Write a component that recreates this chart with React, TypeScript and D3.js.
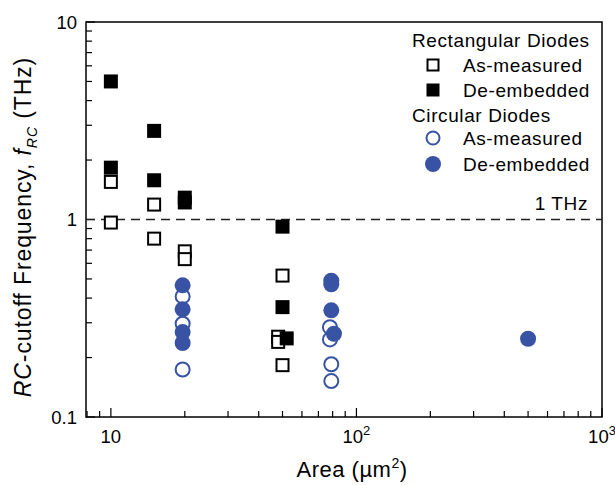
import React, { useEffect, useRef } from 'react'
import * as d3 from 'd3'

// rectangular diodes
const rectMeasuredArea = [10, 10, 15, 15, 20, 20, 50, 48, 48, 50]
const rectMeasuredFreq = [1.55, 0.965, 1.19, 0.8, 0.69, 0.63, 0.52, 0.255, 0.24, 0.183]
const rectDeembArea = [10, 10, 15, 15, 20, 20, 50, 50, 52]
const rectDeembFreq = [5.0, 1.83, 2.81, 1.58, 1.29, 1.22, 0.92, 0.36, 0.25]

// circular diodes
const circMeasuredArea = [19.6, 19.6, 19.6, 78, 78, 79, 79]
const circMeasuredFreq = [0.408, 0.297, 0.174, 0.285, 0.247, 0.185, 0.152]
const circDeembArea = [19.6, 19.6, 19.6, 19.6, 79, 79, 79, 81, 500]
const circDeembFreq = [0.464, 0.351, 0.269, 0.237, 0.49, 0.47, 0.347, 0.264, 0.249]

const xTicks = [10, 100, 1000]
const yTicks = [10, 1, 0.1]

const BLUE = '#3953a4'
const FONT = 'Arial, "Liberation Sans", Helvetica, sans-serif'

function App() {
    const svgRef = useRef<SVGSVGElement>(null)

    useEffect(() => {
        const width = 615
        const height = 485
        const left = 86, right = 602, top = 22, bottom = 417

        const svg = d3.select(svgRef.current)
        svg.selectAll('*').remove()
        svg.attr('width', width).attr('height', height)

        const x = d3.scaleLog().domain([7.92, 1000]).range([left, right])
        const y = d3.scaleLog().domain([0.1, 10]).range([bottom, top])

        // frame
        svg.append('rect')
            .attr('x', left).attr('y', top)
            .attr('width', right - left).attr('height', bottom - top)
            .attr('fill', 'none').attr('stroke', '#000').attr('stroke-width', 1.5)

        // x ticks (inward)
        const xMinor = [8, 9, ...d3.range(2, 10).map(d => d * 10), ...d3.range(2, 10).map(d => d * 100)]
        xMinor.forEach(v => {
            svg.append('line')
                .attr('x1', x(v)).attr('x2', x(v))
                .attr('y1', bottom).attr('y2', bottom - 6)
                .attr('stroke', '#000').attr('stroke-width', 1.2)
        })
        xTicks.forEach(v => {
            svg.append('line')
                .attr('x1', x(v)).attr('x2', x(v))
                .attr('y1', bottom).attr('y2', bottom - 9)
                .attr('stroke', '#000').attr('stroke-width', 1.2)
        })
        const xLab = svg.append('g').attr('font-family', FONT).attr('font-size', 18.5)
        xTicks.forEach(v => {
            const t = xLab.append('text')
                .attr('x', x(v)).attr('y', 443)
                .attr('text-anchor', 'middle')
            const e = Math.round(Math.log10(v))
            if (e === 1) {
                t.text('10')
            } else {
                t.append('tspan').text('10')
                t.append('tspan').attr('dy', -8).attr('font-size', 13).text(String(e))
            }
        })

        // y ticks
        const yMinor: number[] = []
        ;[0.1, 1].forEach(dec => d3.range(2, 10).forEach(m => yMinor.push(m * dec)))
        yMinor.forEach(v => {
            svg.append('line')
                .attr('x1', left).attr('x2', left + 6)
                .attr('y1', y(v)).attr('y2', y(v))
                .attr('stroke', '#000').attr('stroke-width', 1.2)
        })
        yTicks.forEach(v => {
            svg.append('line')
                .attr('x1', left).attr('x2', left + 9)
                .attr('y1', y(v)).attr('y2', y(v))
                .attr('stroke', '#000').attr('stroke-width', 1.2)
            svg.append('text')
                .attr('x', 77).attr('y', y(v) + 6.5)
                .attr('text-anchor', 'end')
                .attr('font-family', FONT).attr('font-size', 18.5)
                .text(String(v))
        })

        // 1 THz dashed line
        svg.append('line')
            .attr('x1', left).attr('x2', right)
            .attr('y1', y(1)).attr('y2', y(1))
            .attr('stroke', '#222').attr('stroke-width', 1.6)
            .attr('stroke-dasharray', '9,6')
        svg.append('text')
            .attr('x', 588).attr('y', 210)
            .attr('text-anchor', 'end')
            .attr('font-family', FONT).attr('font-size', 19).attr('letter-spacing', 0.6)
            .text('1 THz')

        // markers
        const sq = (g: any, cx: number, cy: number, filled: boolean, s: number) => {
            if (filled) {
                g.append('rect').attr('x', cx - s / 2).attr('y', cy - s / 2)
                    .attr('width', s).attr('height', s).attr('fill', '#000')
            } else {
                g.append('rect').attr('x', cx - (s - 2) / 2).attr('y', cy - (s - 2) / 2)
                    .attr('width', s - 2).attr('height', s - 2)
                    .attr('fill', '#fff').attr('stroke', '#000').attr('stroke-width', 2)
            }
        }
        const circ = (g: any, cx: number, cy: number, filled: boolean, r: number) => {
            if (filled) {
                g.append('circle').attr('cx', cx).attr('cy', cy).attr('r', r).attr('fill', BLUE)
            } else {
                g.append('circle').attr('cx', cx).attr('cy', cy).attr('r', r - 1)
                    .attr('fill', '#fff').attr('stroke', BLUE).attr('stroke-width', 2)
            }
        }

        const pts = svg.append('g')
        rectMeasuredArea.forEach((a, i) => sq(pts, x(a), y(rectMeasuredFreq[i]), false, 14))
        rectDeembArea.forEach((a, i) => sq(pts, x(a), y(rectDeembFreq[i]), true, 14))
        circMeasuredArea.forEach((a, i) => circ(pts, x(a), y(circMeasuredFreq[i]), false, 8))
        circDeembArea.forEach((a, i) => circ(pts, x(a), y(circDeembFreq[i]), true, 8))

        // legend
        const lg = svg.append('g').attr('font-family', FONT).attr('font-size', 19).attr('letter-spacing', 0.6)
        lg.append('text').attr('x', 412).attr('y', 47).text('Rectangular Diodes')
        sq(lg, 433, 65, false, 13)
        lg.append('text').attr('x', 463).attr('y', 72).text('As-measured')
        sq(lg, 433, 90, true, 13)
        lg.append('text').attr('x', 463).attr('y', 97).text('De-embedded')
        lg.append('text').attr('x', 412).attr('y', 122).text('Circular Diodes')
        circ(lg, 433, 138, false, 7.5)
        lg.append('text').attr('x', 463).attr('y', 145).text('As-measured')
        circ(lg, 433, 164, true, 8)
        lg.append('text').attr('x', 463).attr('y', 171).text('De-embedded')

        // axis titles
        const xt = svg.append('text')
            .attr('x', 352).attr('y', 477)
            .attr('text-anchor', 'middle')
            .attr('font-family', FONT).attr('font-size', 22).attr('letter-spacing', 0.5)
        xt.append('tspan').text('Area (µm')
        xt.append('tspan').attr('dy', -9).attr('font-size', 14).text('2')
        xt.append('tspan').attr('dy', 9).text(')')

        const yt = svg.append('text')
            .attr('transform', `translate(31, 227) rotate(-90)`)
            .attr('text-anchor', 'middle')
            .attr('font-family', FONT).attr('font-size', 23).attr('letter-spacing', 0.9)
        yt.append('tspan').attr('font-style', 'italic').text('RC')
        yt.append('tspan').text('-cutoff Frequency, ')
        yt.append('tspan').attr('font-style', 'italic').text('f')
        yt.append('tspan').attr('font-style', 'italic').attr('font-size', 14).attr('dy', 6).text('RC')
        yt.append('tspan').attr('dy', -6).text(' (THz)')
    }, [])

    return (
        <div>
            <svg ref={svgRef} style={{ position: 'absolute', left: 0, top: 0, background: '#fff' }}></svg>
        </div>
    )
}

export default App
